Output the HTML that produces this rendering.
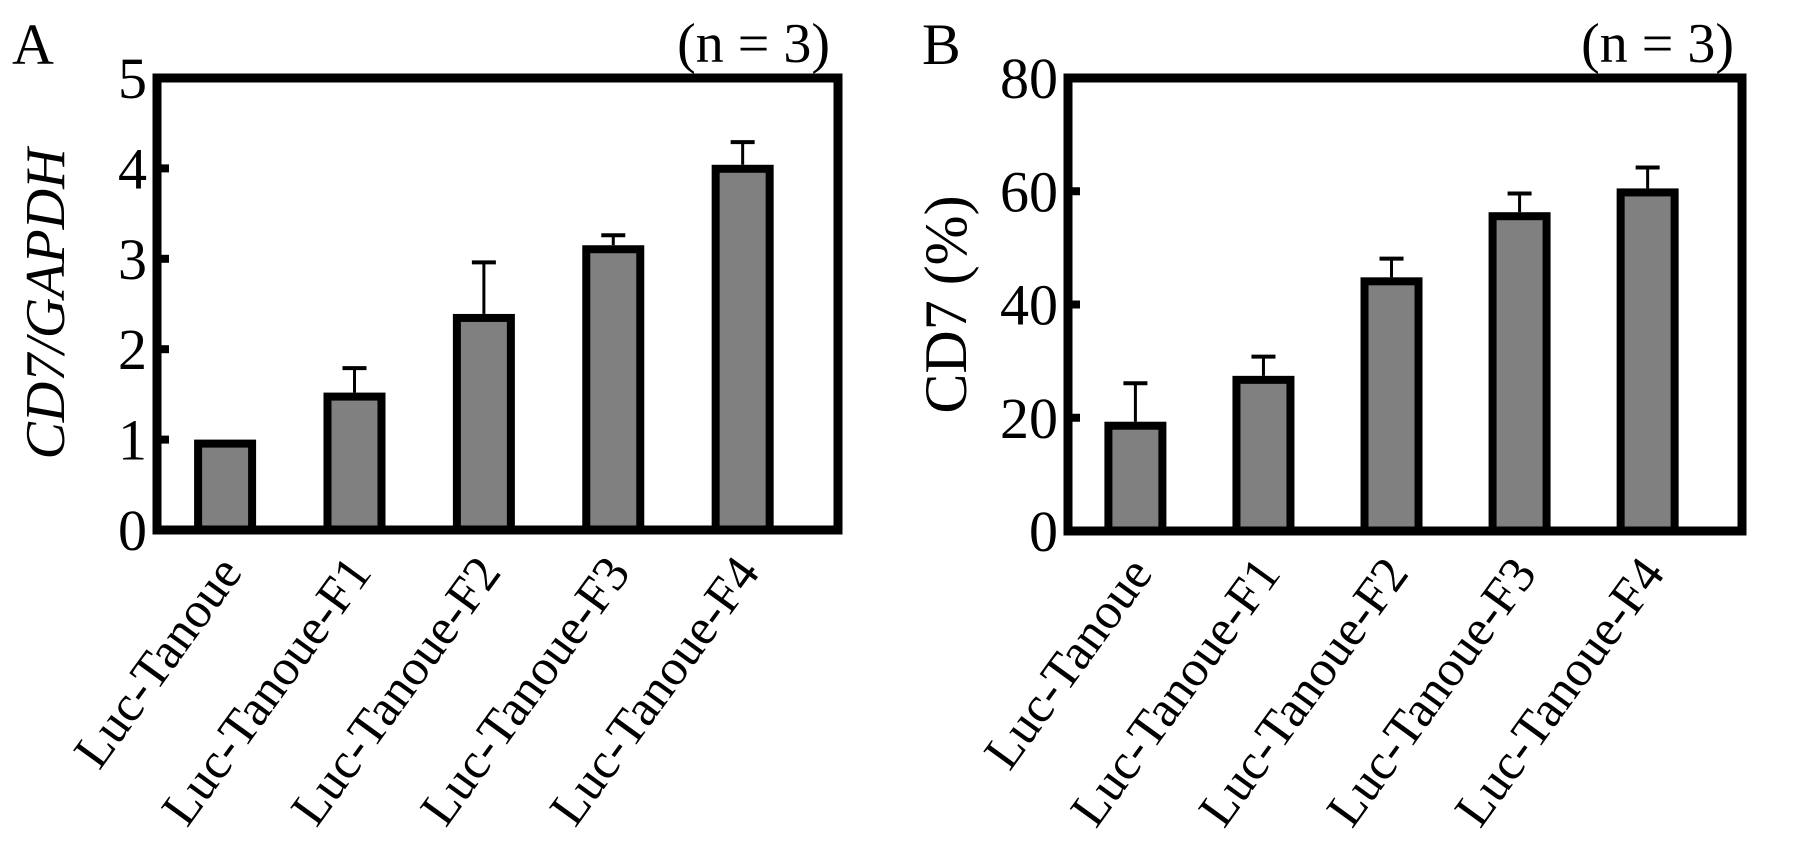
<!DOCTYPE html>
<html><head><meta charset="utf-8"><style>
html,body{margin:0;padding:0;background:#fff;}
svg text{font-family:"Liberation Serif",serif;fill:#000;}
</style></head><body>
<svg id="chart" width="1795" height="843" viewBox="0 0 1795 843" xmlns="http://www.w3.org/2000/svg"></svg>
<script>
const categories = ["Luc-Tanoue","Luc-Tanoue-F1","Luc-Tanoue-F2","Luc-Tanoue-F3","Luc-Tanoue-F4"];
const valuesA = [1.0, 1.52, 2.39, 3.15, 4.04];
const errorsA = [0.0, 0.27, 0.57, 0.11, 0.25];
const ticksA = [0,1,2,3,4,5];
const valuesB = [19.3, 27.4, 44.8, 56.3, 60.5];
const errorsB = [6.8, 3.4, 3.3, 3.3, 3.7];
const ticksB = [0,20,40,60,80];

const NS = "http://www.w3.org/2000/svg";
const svg = document.getElementById('chart');
function mk(tag, attrs, parent){const e=document.createElementNS(NS,tag);for(const k in attrs)e.setAttribute(k,attrs[k]);(parent||svg).appendChild(e);return e;}

function panel(cfg){
  const g = mk('g',{});
  
  
  const {L,R,T,B,max} = cfg;
  const y = v => B - (v/max)*(B-T);
  const x = i => L + (R-L)*(0.1 + i*0.19);
  cfg.values.forEach((v,i)=>{
    const cx = x(i), w = 62;
    const e = cfg.errors[i];
    if (e > 0) {
      const eb = mk('g',{},g);
      
      
      mk('line',{x1:cx,x2:cx,y1:y(v),y2:y(v+e),stroke:'#000','stroke-width':3},eb);
      mk('line',{x1:cx-12,x2:cx+12,y1:y(v+e),y2:y(v+e),stroke:'#000','stroke-width':4},eb);
    }
    const r = mk('rect',{x:cx-w/2+4,y:y(v)+4,width:w-8,height:Math.max(0,B-y(v)-4),fill:'#808080',stroke:'#000','stroke-width':8},g);
    
    
    const ax = cx-10, ay = B+22;
    const t = mk('text',{x:ax,y:ay,'font-size':51,'text-anchor':'end','dominant-baseline':'hanging',transform:`rotate(-54 ${ax} ${ay})`},g);
    t.textContent = categories[i];
    
    
  });
  const fr = mk('rect',{x:L,y:T,width:R-L,height:B-T,fill:'none',stroke:'#000','stroke-width':9},g);
  
  
  cfg.ticks.forEach(tv=>{
    if (tv>0 && tv<max) mk('line',{x1:L,x2:L+12,y1:y(tv),y2:y(tv),stroke:'#000','stroke-width':8},g);
    const t = mk('text',{x:L-10,y:y(tv)+20,'font-size':58,'text-anchor':'end'},g);
    t.textContent = tv;
    
    
  });
  const yt = mk('text',{x:cfg.titleX,y:(T+B)/2,'font-size':cfg.titleSize,'text-anchor':'middle','font-style':cfg.italic?'italic':'normal',transform:`rotate(-90 ${cfg.titleX} ${(T+B)/2})`},g);
  yt.textContent = cfg.title;
  
  
  const pl = mk('text',{x:cfg.letterX,y:64,'font-size':58},g);
  pl.textContent = cfg.letter;
  
  
  const n = mk('text',{x:R-8,y:62,'font-size':56,'text-anchor':'end'},g);
  n.textContent = '(n = 3)';
  
  
}
panel({name:'panel-a',L:157,R:838,T:78,B:530,max:5,values:valuesA,errors:errorsA,ticks:ticksA,title:'CD7/GAPDH',italic:true,titleSize:56,titleX:64,letter:'A',letterX:12});
panel({name:'panel-b',L:1068,R:1742,T:78,B:531,max:80,values:valuesB,errors:errorsB,ticks:ticksB,title:'CD7 (%)',italic:false,titleSize:60,titleX:966,letter:'B',letterX:922});
</script>
</body></html>
